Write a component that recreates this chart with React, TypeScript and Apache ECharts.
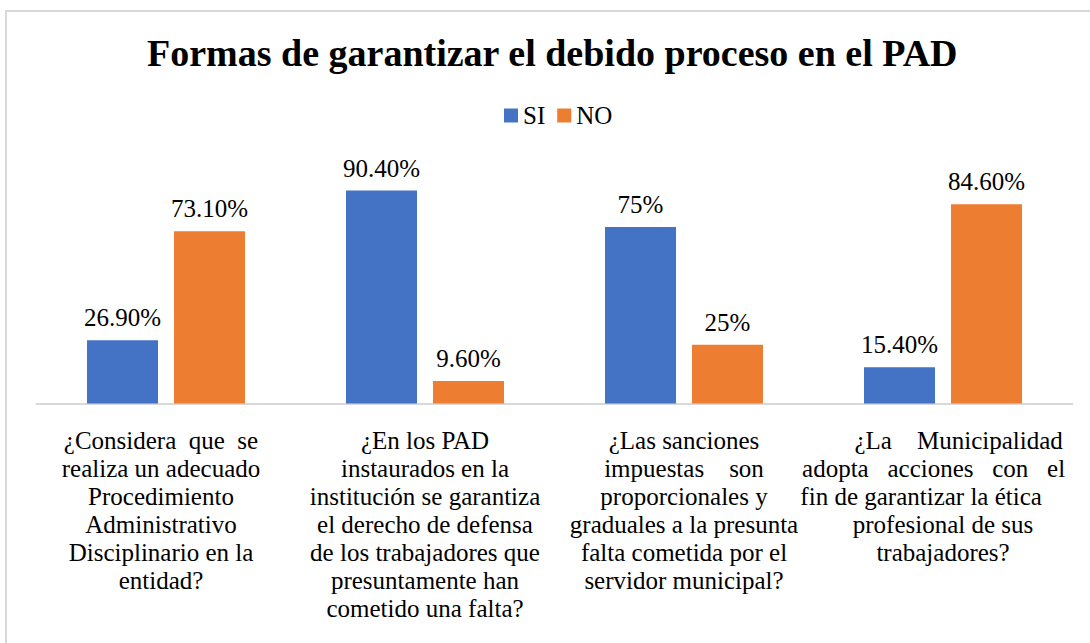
import React, { useEffect, useRef } from "react";
import * as echarts from "echarts";

const title = "Formas de garantizar el debido proceso en el PAD";
const seriesNames = ["SI", "NO"];
const categories = [
  "¿Considera  que  se\nrealiza un adecuado\nProcedimiento\nAdministrativo\nDisciplinario en la\nentidad?",
  "¿En los PAD\ninstaurados en la\ninstitución se garantiza\nel derecho de defensa\nde los trabajadores que\npresuntamente han\ncometido una falta?",
  "¿Las sanciones\nimpuestas    son\nproporcionales y\ngraduales a la presunta\nfalta cometida por el\nservidor municipal?",
  "     ¿La    Municipalidad\nadopta   acciones   con   el   \nfin de garantizar la ética       \nprofesional de sus\ntrabajadores?",
];
const siValues = [26.9, 90.4, 75, 15.4];
const noValues = [73.1, 9.6, 25, 84.6];

const FONT = "Liberation Serif";

export default function App() {
  const ref = useRef<HTMLDivElement>(null);
  useEffect(() => {
    if (!ref.current) return;
    const chart = echarts.init(ref.current, null, { renderer: "svg" });
    const fmt = (p: any) => {
      const v = p.value as number;
      return Number.isInteger(v) ? v + "%" : v.toFixed(2) + "%";
    };
    const labelStyle = {
      show: true,
      position: "top",
      distance: 10,
      formatter: fmt,
      fontFamily: FONT,
      fontSize: 25,
      color: "#000",
    };
    const catData = categories.map((c, i) =>
      i === 0 ? { value: c, textStyle: { padding: [0, 10, 0, 0] } } : c
    );
    chart.setOption({
      animation: false,
      backgroundColor: "#ffffff",
      title: {
        text: title,
        left: 142,
        top: 29,
        textStyle: { fontFamily: FONT, fontSize: 38, fontWeight: "bold", color: "#000" },
      },
      legend: {
        data: seriesNames,
        left: 499,
        top: 98,
        itemWidth: 14,
        itemHeight: 14,
        itemGap: 12,
        icon: "rect",
        textStyle: { fontFamily: FONT, fontSize: 25, color: "#000" },
      },
      graphic: [
        {
          type: "rect",
          shape: { x: 6, y: 11, width: 1200, height: 800 },
          style: { fill: "none", stroke: "#d9d9d9", lineWidth: 2 },
          silent: true,
        },
      ],
      grid: { left: 36.5, right: 17.5, top: 168, bottom: 239.5, containLabel: false },
      xAxis: {
        type: "category",
        data: catData,
        axisLine: { show: true, lineStyle: { color: "#d9d9d9", width: 2 } },
        axisTick: { show: false },
        axisLabel: {
          interval: 0,
          margin: 22.5,
          fontFamily: FONT,
          fontSize: 25,
          lineHeight: 28,
          color: "#000",
          align: "center",
        },
      },
      yAxis: {
        type: "value",
        min: 0,
        max: 100,
        show: false,
        splitLine: { show: false },
      },
      series: [
        {
          name: seriesNames[0],
          type: "bar",
          data: siValues,
          barWidth: 71,
          barGap: "22.5%",
          itemStyle: { color: "#4472C4" },
          label: labelStyle,
        },
        {
          name: seriesNames[1],
          type: "bar",
          data: noValues,
          barWidth: 71,
          barGap: "22.5%",
          itemStyle: { color: "#ED7D31" },
          label: labelStyle,
        },
      ],
    });
    return () => chart.dispose();
  }, []);
  return (
    <div
      ref={ref}
      style={{ position: "absolute", left: 0, top: 0, width: 1090, height: 643 }}
    />
  );
}
